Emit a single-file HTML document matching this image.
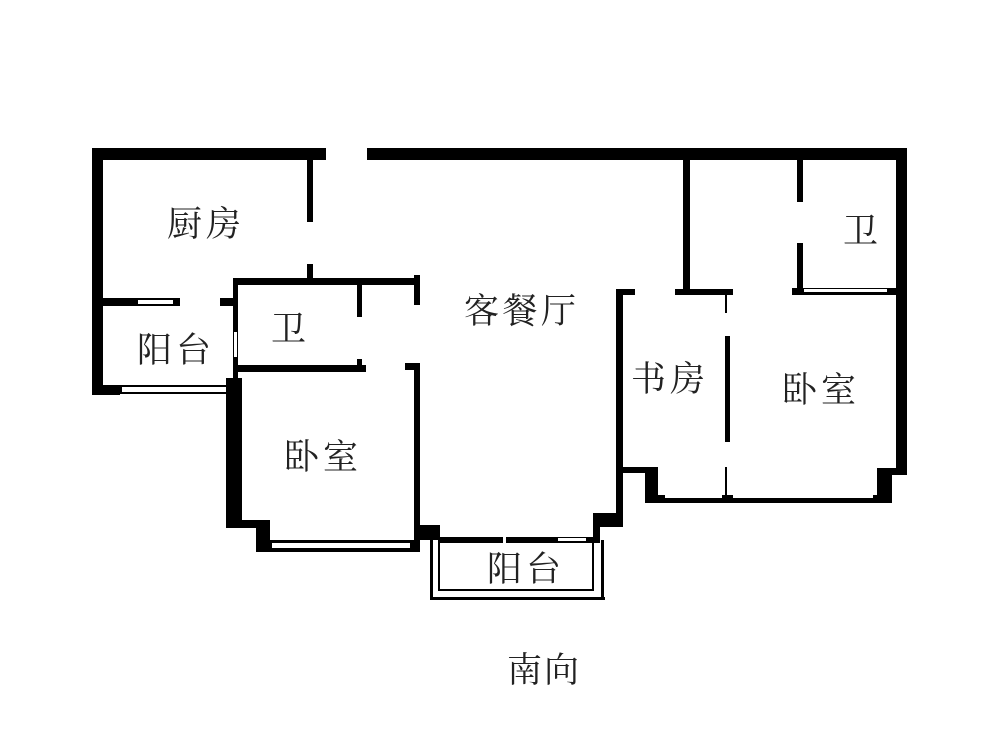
<!DOCTYPE html>
<html><head><meta charset="utf-8"><style>
html,body{margin:0;padding:0;background:#fff;width:1000px;height:750px;overflow:hidden}
text{font-family:"Liberation Serif","Noto Serif CJK SC","Noto Sans CJK SC",serif;fill:#222}
</style></head><body>
<svg width="1000" height="750" viewBox="0 0 1000 750" xmlns="http://www.w3.org/2000/svg">
<g fill="#000">
<rect x="92" y="148" width="234" height="12"/>
<rect x="367" y="148" width="540" height="12"/>
<rect x="92" y="148" width="11" height="247"/>
<rect x="896" y="148" width="11" height="327"/>
<rect x="877" y="468" width="15" height="35"/>
<rect x="877" y="468" width="30" height="7"/>
<rect x="307" y="160" width="6" height="62"/>
<rect x="307" y="264" width="6" height="16"/>
<rect x="92" y="298" width="88" height="8"/>
<rect x="138" y="300" width="35" height="4" fill="#fff"/>
<rect x="220" y="298" width="15" height="8"/>
<rect x="92" y="385" width="28" height="10"/>
<rect x="120" y="385" width="108" height="2"/>
<rect x="120" y="392" width="108" height="2"/>
<rect x="120" y="387" width="2" height="5"/>
<rect x="233" y="278" width="187" height="7"/>
<rect x="233" y="278" width="5" height="102"/>
<rect x="234" y="332" width="3" height="25" fill="#fff"/>
<rect x="357" y="285" width="5" height="32"/>
<rect x="357" y="359" width="5" height="8"/>
<rect x="233" y="365" width="133" height="7"/>
<rect x="414" y="275" width="6" height="30"/>
<rect x="405" y="363" width="15" height="7"/>
<rect x="414" y="363" width="6" height="174"/>
<rect x="226" y="378" width="16" height="150"/>
<rect x="226" y="520" width="44" height="8"/>
<rect x="256" y="520" width="14" height="32"/>
<rect x="256" y="540" width="164" height="12"/>
<rect x="272" y="543" width="138" height="5" fill="#fff"/>
<rect x="414" y="525" width="26" height="15"/>
<rect x="430" y="540" width="3" height="60"/>
<rect x="430" y="597" width="175" height="3"/>
<rect x="601" y="540" width="3" height="60"/>
<rect x="438" y="540" width="2" height="51"/>
<rect x="438" y="589" width="156" height="2"/>
<rect x="592" y="540" width="2" height="51"/>
<rect x="440" y="537" width="63" height="6"/>
<rect x="506" y="537" width="50" height="6"/>
<rect x="556" y="537" width="39" height="6"/>
<rect x="558" y="538" width="28" height="3" fill="#fff"/>
<rect x="593" y="513" width="30" height="14"/>
<rect x="593" y="513" width="7" height="30"/>
<rect x="616" y="289" width="7" height="238"/>
<rect x="616" y="289" width="19" height="6"/>
<rect x="675" y="289" width="58" height="6"/>
<rect x="623" y="467" width="35" height="6"/>
<rect x="645" y="467" width="13" height="36"/>
<rect x="645" y="495" width="243" height="8"/>
<rect x="665" y="493" width="57" height="5" fill="#fff"/>
<rect x="733" y="493" width="140" height="5" fill="#fff"/>
<rect x="725" y="295" width="2" height="18"/>
<rect x="725" y="336" width="5" height="106"/>
<rect x="725" y="467" width="2" height="30"/>
<rect x="683" y="159" width="7" height="133"/>
<rect x="797" y="159" width="6" height="43"/>
<rect x="797" y="243" width="6" height="50"/>
<rect x="792" y="288" width="104" height="7"/>
<rect x="804" y="289" width="83" height="3" fill="#fff"/>
</g>
<g font-size="35">
<text x="167" y="236" textLength="74">厨房</text>
<text x="137" y="362" textLength="74">阳台</text>
<text x="271" y="341">卫</text>
<text x="464" y="323" textLength="112">客餐厅</text>
<text x="284" y="469" textLength="74">卧室</text>
<text x="631" y="391" textLength="74">书房</text>
<text x="782" y="402" textLength="74">卧室</text>
<text x="843" y="243">卫</text>
<text x="487" y="581" textLength="74">阳台</text>
<text x="507" y="682" textLength="72">南向</text>
</g>
</svg>
</body></html>
